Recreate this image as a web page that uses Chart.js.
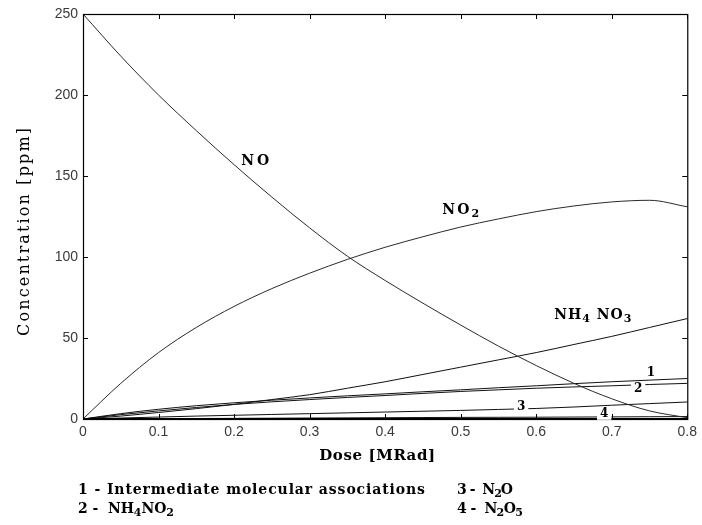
<!DOCTYPE html>
<html>
<head>
<meta charset="utf-8">
<script src="https://cdn.jsdelivr.net/npm/chart.js@4/dist/chart.umd.min.js"></script>
<style>
html,body{margin:0;padding:0;background:#fff;}
#wrap{width:702px;height:525px;position:relative;}
</style>
</head>
<body>
<div id="wrap"><canvas id="c" width="702" height="525"></canvas></div>
<script>
// ---- data ----
const doses        = [0, 0.05, 0.1, 0.15, 0.2, 0.25, 0.3, 0.35, 0.4, 0.45, 0.5, 0.55, 0.6, 0.65, 0.7, 0.75, 0.8];
const noValues     = [250, 224, 200, 178, 157, 137, 118, 100.5, 85.5, 71.5, 58, 45, 33, 22, 12.5, 5, 0.8];
const no2Values    = [0, 22, 41, 56.5, 69.5, 80.5, 90, 98.5, 106, 112.5, 118.5, 123.5, 128, 131.5, 134, 135, 131];
const nh4no3Values = [0, 1.8, 4, 6.4, 9, 12, 15, 19, 23, 27.5, 32, 36.5, 41, 46, 51, 56.5, 62];
const assocValues  = [0, 3.3, 6, 8.2, 10, 11.6, 13, 14.3, 15.5, 16.8, 18, 19.3, 20.5, 21.8, 23, 24, 25];
const nh4no2Values = [0, 2.7, 5, 7.1, 9, 10.6, 12, 13.3, 14.5, 15.8, 17, 18, 19, 19.8, 20.5, 21.3, 22];
const n2oValues    = [0, 0.6, 1.2, 1.8, 2.3, 2.8, 3.3, 3.8, 4.3, 4.8, 5.3, 5.9, 6.5, 7.4, 8.5, 9.5, 10.5];
const n2o5Values   = [0, 0.1, 0.2, 0.3, 0.4, 0.5, 0.6, 0.7, 0.8, 0.9, 1.0, 1.05, 1.1, 1.2, 1.3, 1.4, 1.5];
const xTicks = [0, 0.1, 0.2, 0.3, 0.4, 0.5, 0.6, 0.7, 0.8];
const yTicks = [0, 50, 100, 150, 200, 250];
const xTitle = 'Dose [MRad]';
const yTitle = 'Concentration [ppm]';
// curve labels: dose, ppm, text segments (text, subscript flag)
const curveLabels = [
  [0.228, 159, [['NO', 0]]],
  [0.50, 129, [['NO', 0], ['2', 1]]],
  [0.675, 64, [['NH', 0], ['4', 1], [' NO', 0], ['3', 1]]],
  [0.752, 28.5, [['1', 0]]],
  [0.735, 18.5, [['2', 0]]],
  [0.58, 7.2, [['3', 0]]],
  [0.69, 3.2, [['4', 0]]]
];
const legendLeft = [
  [['1 - Intermediate molecular associations', 0]],
  [['2 -  NH', 0], ['4', 1], ['NO', 0], ['2', 1]]
];
const legendRight = [
  [['3 -  N', 0], ['2', 1], ['O', 0]],
  [['4 -  N', 0], ['2', 1], ['O', 0], ['5', 1]]
];

const series = [noValues, no2Values, nh4no3Values, assocValues, nh4no2Values, n2oValues, n2o5Values];
const SERIF = '"DejaVu Serif", "Liberation Serif", serif';

// draws text with subscripts, letter spacing chosen to reach a target width
function drawRich(ctx, segs, x, y, size, align, bold, targetW, bg) {
  const w = bold ? 'bold ' : '';
  const chars = [];
  segs.forEach(([t, sub]) => {
    const f = w + (sub ? Math.round(size * 0.78) : size) + 'px ' + SERIF;
    ctx.font = f;
    for (const ch of t) chars.push([ch, sub, f, ctx.measureText(ch).width]);
  });
  const natural = chars.reduce((s, c) => s + c[3], 0);
  const sp = targetW && chars.length > 1 ? (targetW - natural) / (chars.length - 1) : 0;
  const total = natural + sp * (chars.length - 1);
  let cx = align === 'center' ? x - total / 2 : x;
  if (bg) {
    ctx.fillStyle = '#fff';
    ctx.fillRect(cx - 3, y - size * 0.5, total + 6, size);
  }
  ctx.fillStyle = '#000';
  ctx.textBaseline = 'middle';
  ctx.textAlign = 'left';
  chars.forEach(([ch, sub, f, m]) => {
    ctx.font = f;
    ctx.fillText(ch, cx, sub ? y + size * 0.3 : y);
    cx += m + sp;
  });
}

const labelWidths = [28, 37, 77, 0, 0, 0, 0];

const decor = {
  id: 'decor',
  afterDatasetsDraw(chart) {
    const ctx = chart.ctx;
    const a = chart.chartArea;
    const xs = chart.scales.x, ys = chart.scales.y;
    ctx.save();
    // frame
    ctx.strokeStyle = '#000';
    ctx.lineWidth = 1.2;
    ctx.strokeRect(a.left + 0.5, a.top + 0.5, a.right - a.left, a.bottom - a.top);
    ctx.lineWidth = 2;
    ctx.beginPath();
    ctx.moveTo(a.left, a.bottom); ctx.lineTo(a.right, a.bottom);
    ctx.stroke();
    // inward ticks
    ctx.lineWidth = 1;
    ctx.beginPath();
    xTicks.forEach(v => {
      const px = Math.round(xs.getPixelForValue(v)) + 0.5;
      ctx.moveTo(px, a.bottom); ctx.lineTo(px, a.bottom - 5);
      ctx.moveTo(px, a.top); ctx.lineTo(px, a.top + 5);
    });
    yTicks.forEach(v => {
      const py = Math.round(ys.getPixelForValue(v)) + 0.5;
      ctx.moveTo(a.left, py); ctx.lineTo(a.left + 5, py);
      ctx.moveTo(a.right, py); ctx.lineTo(a.right - 5, py);
    });
    ctx.stroke();
    // curve labels
    curveLabels.forEach(([dx, dy, segs], i) => {
      const isNum = i >= 3;
      drawRich(ctx, segs, xs.getPixelForValue(dx), ys.getPixelForValue(dy),
               isNum ? 12 : 14, 'center', true, labelWidths[i], isNum);
    });
    // axis titles
    ctx.save();
    ctx.translate(25, 232);
    ctx.rotate(-Math.PI / 2);
    drawRich(ctx, [[yTitle, 0]], 0, 0, 16, 'center', false, 208, false);
    ctx.restore();
    drawRich(ctx, [[xTitle, 0]], (a.left + a.right) / 2 - 8, 456, 15, 'center', true, 116, false);
    // legend
    drawRich(ctx, legendLeft[0], 78, 490, 14, 'left', true, 347, false);
    drawRich(ctx, legendLeft[1], 78, 509, 14, 'left', true, 96, false);
    drawRich(ctx, legendRight[0], 457, 490, 14, 'left', true, 56, false);
    drawRich(ctx, legendRight[1], 457, 509, 14, 'left', true, 66, false);
    ctx.restore();
  }
};

new Chart(document.getElementById('c'), {
  type: 'line',
  data: {
    datasets: series.map((vals, k) => ({
      data: doses.map((d, i) => ({ x: d, y: vals[i] })),
      borderColor: k < 2 ? '#2a2a2a' : '#111',
      borderWidth: 1,
      pointRadius: 0,
      cubicInterpolationMode: 'monotone',
      fill: false
    }))
  },
  options: {
    responsive: false,
    animation: false,
    devicePixelRatio: 1,
    layout: { padding: { left: 0, top: 14, right: 12, bottom: 76 } },
    plugins: { legend: { display: false }, tooltip: { enabled: false } },
    scales: {
      x: {
        type: 'linear', min: 0, max: 0.8,
        afterBuildTicks: s => { s.ticks = xTicks.map(v => ({ value: v })); },
        afterFit: s => { s.height = 30; },
        grid: { display: false, drawTicks: false },
        border: { display: false },
        ticks: {
          padding: 5, color: '#3a3a3a', maxRotation: 0,
          font: { family: '"Liberation Sans", Arial, sans-serif', size: 14 },
          callback: v => String(+v.toFixed(1))
        }
      },
      y: {
        type: 'linear', min: 0, max: 250,
        afterBuildTicks: s => { s.ticks = yTicks.map(v => ({ value: v })); },
        afterFit: s => { s.width = 83; },
        grid: { display: false, drawTicks: false },
        border: { display: false },
        ticks: {
          padding: 5, color: '#3a3a3a',
          font: { family: '"Liberation Sans", Arial, sans-serif', size: 14 }
        }
      }
    }
  },
  plugins: [decor]
});
</script>
</body>
</html>
